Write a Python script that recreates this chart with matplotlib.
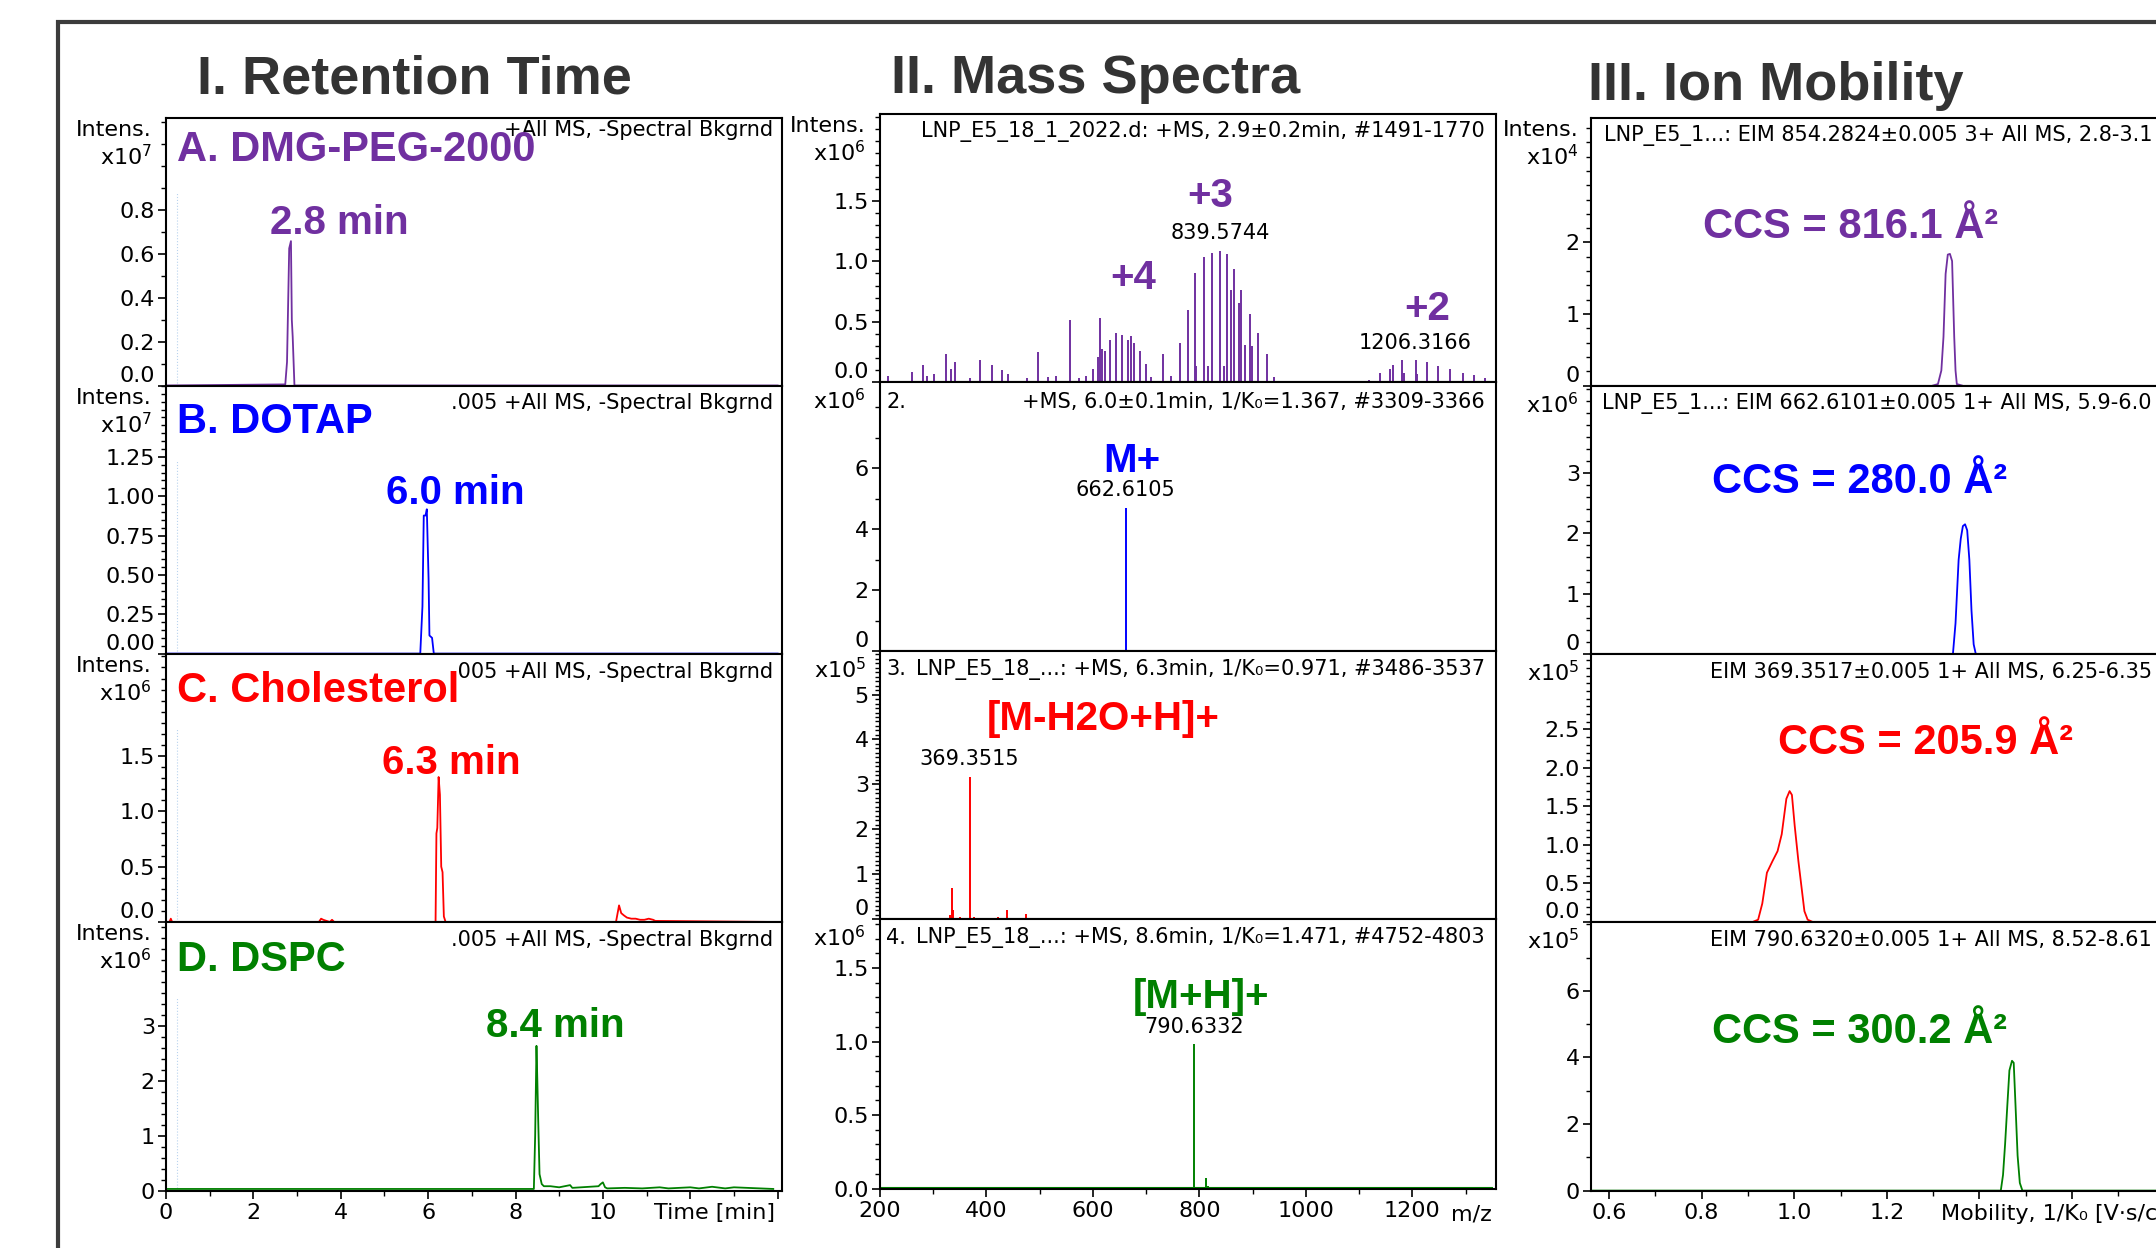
import numpy as np
import matplotlib
matplotlib.use('Agg')
import matplotlib.pyplot as plt
from matplotlib.ticker import MultipleLocator
from matplotlib.patches import Rectangle

#%% plotting properties
plt.rcParams.update({
    'font.family': 'DejaVu Sans',
    'font.size': 16,
    'axes.linewidth': 1.5,
    'xtick.direction': 'out',
    'ytick.direction': 'out',
    'xtick.major.size': 6,
    'ytick.major.size': 6,
    'xtick.minor.size': 3.5,
    'ytick.minor.size': 3.5,
    'xtick.major.width': 1.2,
    'ytick.major.width': 1.2,
    'xtick.minor.width': 1.0,
    'ytick.minor.width': 1.0,
    'xtick.major.pad': 3,
    'ytick.major.pad': 2,
    'xtick.labelsize': 16,
    'ytick.labelsize': 16,
})

PURPLE = '#7030A0'
BLUE = '#0000FF'
RED = '#FF0000'
GREEN = '#008000'
colors = [PURPLE, BLUE, RED, GREEN]

#%% data -- I. retention time (min, intensity)
dmg_t = [0.0, 2.73, 2.77, 2.82, 2.86, 2.88, 2.90, 2.94, 14.0]
dmg_i = [0.0, 0.005, 0.107, 0.625, 0.658, 0.299, 0.222, 0.0, 0.0]       # x1e7

dotap_t = [0.0, 5.82, 5.87, 5.90, 5.94, 5.97, 6.01, 6.03, 6.09, 6.13, 14.0]
dotap_i = [0.0, 0.0, 0.30, 0.877, 0.877, 0.917, 0.476, 0.115, 0.10, 0.0, 0.0]  # x1e7

chol_t = [0.0, 0.08, 0.11, 0.14, 3.50, 3.55, 3.60, 3.75, 3.80, 3.85, 6.17, 6.19, 6.21,
          6.24, 6.27, 6.30, 6.33, 6.36, 6.40, 10.30, 10.37, 10.42, 10.48, 10.55, 10.65,
          10.75, 10.85, 10.95, 11.05, 11.15, 11.20, 14.0]
chol_i = [0.0, 0.0, 0.03, 0.0, 0.0, 0.03, 0.02, 0.0, 0.02, 0.0, 0.0, 0.80, 0.85,
          1.31, 1.15, 0.50, 0.45, 0.05, 0.0, 0.0, 0.15, 0.08, 0.06, 0.04, 0.03,
          0.03, 0.02, 0.02, 0.03, 0.02, 0.01, 0.0]                          # x1e6

dspc_t = [0.0, 8.42, 8.45, 8.48, 8.50, 8.52, 8.55, 8.60, 8.65, 8.80, 9.00, 9.25, 9.30,
          9.50, 9.90, 9.95, 10.00, 10.05, 10.10, 10.50, 10.90, 11.30, 11.50, 12.00,
          12.20, 12.50, 12.80, 13.00, 13.30, 13.90]
dspc_i = [0.03, 0.03, 1.00, 2.64, 2.00, 1.27, 0.30, 0.12, 0.08, 0.08, 0.06, 0.10, 0.05,
          0.06, 0.08, 0.12, 0.15, 0.06, 0.04, 0.05, 0.04, 0.06, 0.04, 0.06,
          0.04, 0.07, 0.04, 0.06, 0.05, 0.03]                               # x1e6

#%% data -- II. mass spectra (m/z, intensity)
peg_mz = [216.6, 260.3, 282.2, 288.3, 302.3, 324.1, 334.6, 342.5, 369.6, 388.8, 411.5,
          429.9, 440.3, 476.2, 498.0, 516.4, 532.1, 558.3, 575.0, 588.1, 600.3, 609.9,
          613.4, 617.8, 623.0, 632.6, 643.1, 654.5, 665.9, 672.8, 677.2, 688.6, 699.9,
          710.4, 731.4, 748.0, 764.6, 779.5, 791.7, 794.3, 808.3, 817.1, 824.1, 839.57,
          845.9, 852.9, 859.0, 865.1, 873.9, 879.1, 885.2, 894.8, 898.3, 910.6, 927.2,
          941.2, 1118.6, 1138.7, 1158.8, 1163.2, 1181.5, 1185.0, 1206.32, 1209.5,
          1227.0, 1248.8, 1271.6, 1294.3, 1316.1, 1336.2]
peg_int = [0.05, 0.08, 0.145, 0.05, 0.07, 0.23, 0.11, 0.165, 0.034, 0.18, 0.145,
           0.10, 0.07, 0.034, 0.25, 0.044, 0.05, 0.515, 0.034, 0.05, 0.11, 0.21,
           0.53, 0.27, 0.26, 0.35, 0.41, 0.39, 0.35, 0.38, 0.32, 0.26, 0.15,
           0.044, 0.236, 0.05, 0.327, 0.60, 0.90, 0.13, 1.04, 0.13, 1.067, 1.09,
           0.13, 1.063, 0.76, 0.934, 0.655, 0.76, 0.306, 0.567, 0.30, 0.41, 0.229,
           0.044, 0.016, 0.075, 0.11, 0.145, 0.18, 0.075, 0.18, 0.069,
           0.163, 0.131, 0.11, 0.075, 0.061, 0.034]                          # x1e6

dotap_mz = [662.61]
dotap_int = [4.69]                                                            # x1e6

chol_mz = [331.8, 335.3, 338.8, 350.2, 369.35, 378.1, 422.7, 440.2, 475.1, 497.8]
chol_int = [0.10, 0.69, 0.20, 0.04, 3.17, 0.04, 0.04, 0.21, 0.11, 0.03]      # x1e5

dspc_mz = [790.63, 812.3, 815.8, 905.8]
dspc_int = [0.984, 0.073, 0.02, 0.013]                                        # x1e6

#%% data -- III. ion mobility (1/K0, intensity)
peg_k = [1.300, 1.3104, 1.3178, 1.3224, 1.3270, 1.3317, 1.3363, 1.3410, 1.3456, 1.3484, 1.3512, 1.362]
peg_ki = [0.0, 0.02, 0.21, 0.68, 1.56, 1.83, 1.84, 1.74, 0.68, 0.21, 0.02, 0.0]     # x1e4

dotap_k = [1.335, 1.3428, 1.3484, 1.3551, 1.3597, 1.3643, 1.3690, 1.3736, 1.3783, 1.3829, 1.3876, 1.3922, 1.40]
dotap_ki = [0.0, 0.0, 0.51, 1.56, 1.91, 2.12, 2.15, 2.05, 1.56, 0.72, 0.16, 0.0, 0.0]  # x1e6

chol_k = [0.910, 0.922, 0.931, 0.941, 0.953, 0.964, 0.973, 0.983, 0.990, 0.995,
          1.001, 1.009, 1.015, 1.022, 1.029, 1.040]
chol_ki = [0.0, 0.03, 0.24, 0.64, 0.79, 0.92, 1.14, 1.60, 1.70, 1.65,
           1.25, 0.79, 0.49, 0.14, 0.03, 0.0]                                # x1e5

dspc_k = [0.56, 1.4462, 1.4510, 1.4555, 1.4603, 1.4648, 1.4704, 1.4741, 1.4780, 1.4825, 1.4873, 1.4929, 1.90]
dspc_ki = [0.0, 0.0, 0.47, 1.40, 2.56, 3.61, 3.90, 3.84, 2.56, 1.05, 0.23, 0.0, 0.0]  # x1e5

#%% axis settings per panel: (ymax, major ticks, minor step, exponent, label format)
rt_y = [(1.219, [0, 0.2, 0.4, 0.6, 0.8], 0.1, 7, '{:.1f}'),
        (1.703, [0, 0.25, 0.5, 0.75, 1.0, 1.25], 0.05, 7, '{:.2f}'),
        (2.425, [0, 0.5, 1.0, 1.5], 0.1, 6, '{:.1f}'),
        (4.9, [0, 1, 2, 3], 0.2, 6, '{:.0f}')]
ms_y = [(2.226, [0, 0.5, 1.0, 1.5], 0.1, 6, '{:.1f}'),
        (8.82, [0, 2, 4, 6], 1, 6, '{:.0f}'),
        (5.97, [0, 1, 2, 3, 4, 5], 0.1, 5, '{:.0f}'),
        (1.834, [0, 0.5, 1.0, 1.5], 0.1, 6, '{:.1f}')]
im_y = [(3.74, [0, 1, 2], 0.2, 4, '{:.0f}'),
        (4.45, [0, 1, 2, 3], 0.2, 6, '{:.0f}'),
        (3.48, [0, 0.5, 1.0, 1.5, 2.0, 2.5], 0.1, 5, '{:.1f}'),
        (8.07, [0, 2, 4, 6], 1, 5, '{:.0f}')]

W, H = 2156, 1248
fig = plt.figure(figsize=(W / 100, H / 100), dpi=100)


def box(l, t, r, b):
    return [l / W, 1 - b / H, (r - l) / W, (b - t) / H]


def ftext(px, py, s, **kw):
    return fig.text(px / W, 1 - py / H, s, **kw)


def setup(ax, ymax, major, minor, fmt, raise_zero, bottom_row):
    ax.set_ylim(0, ymax)
    ax.set_yticks(major)
    ax.set_yticklabels([fmt.format(v) for v in major])
    ax.yaxis.set_minor_locator(MultipleLocator(minor))
    ax.tick_params(axis='y', which='both', left=True, right=False)
    labs = ax.get_yticklabels()
    if raise_zero:
        labs[0].set_va('bottom')
    if not bottom_row:
        ax.tick_params(axis='x', which='both', bottom=False, labelbottom=False)
    ax.tick_params(axis='x', which='both', top=False)
    for sp in ax.spines.values():
        sp.set_zorder(5)


cols = [
    (166, 782, [118, 385.5, 653.6, 922, 1190.6]),
    (880, 1496, [113.6, 382, 651, 919, 1188.6]),
    (1591, 2200, [118, 385.5, 654, 922, 1190.6]),
]

axes = [[None] * 4 for _ in range(3)]
for c, (l, r, rows) in enumerate(cols):
    for k in range(4):
        axes[c][k] = fig.add_axes(box(l, rows[k], r, rows[k + 1]))

# I. retention time
rt_t = [dmg_t, dotap_t, chol_t, dspc_t]
rt_i = [dmg_i, dotap_i, chol_i, dspc_i]
for k in range(4):
    ax = axes[0][k]
    ax.plot(rt_t[k], rt_i[k], color=colors[k], lw=1.3, zorder=3)
    ax.axvline(0.26, ymax=0.72, color='#b9d3ee', lw=0.8, ls=':', zorder=1)
    ax.set_xlim(0, 14.1)
    ymax, major, minor, ex, fmt = rt_y[k]
    setup(ax, ymax, major, minor, fmt, k < 3, k == 3)
ax = axes[0][3]
ax.set_xticks([0, 2, 4, 6, 8, 10, 12, 14])
ax.set_xticklabels(['0', '2', '4', '6', '8', '10', '', ''])
ax.xaxis.set_minor_locator(MultipleLocator(1))

# II. mass spectra
ms_mz = [peg_mz, dotap_mz, chol_mz, dspc_mz]
ms_int = [peg_int, dotap_int, chol_int, dspc_int]
for k in range(4):
    ax = axes[1][k]
    ax.vlines(ms_mz[k], 0, ms_int[k], color=colors[k], lw=1.4, zorder=3)
    ax.set_xlim(201, 1357)
    ymax, major, minor, ex, fmt = ms_y[k]
    setup(ax, ymax, major, minor, fmt, k < 3, k == 3)
axes[1][3].plot([201, 1350], [0.004, 0.004], color=GREEN, lw=1.5, zorder=3)
ax = axes[1][3]
ax.set_xticks([200, 400, 600, 800, 1000, 1200])
ax.xaxis.set_minor_locator(MultipleLocator(100))

# III. ion mobility
im_k = [peg_k, dotap_k, chol_k, dspc_k]
im_i = [peg_ki, dotap_ki, chol_ki, dspc_ki]
for k in range(4):
    ax = axes[2][k]
    ax.plot(im_k[k], im_i[k], color=colors[k], lw=1.3, zorder=3)
    ax.set_xlim(0.561, 1.8765)
    ymax, major, minor, ex, fmt = im_y[k]
    setup(ax, ymax, major, minor, fmt, k < 3, k == 3)
ax = axes[2][3]
ax.set_xticks([0.6, 0.8, 1.0, 1.2, 1.4, 1.6, 1.8])
ax.set_xticklabels(['0.6', '0.8', '1.0', '1.2', '', '', ''])
ax.xaxis.set_minor_locator(MultipleLocator(0.1))

# "Intens." / "x10^n" labels
settings = [rt_y, ms_y, im_y]
lab_x = [152, 866, 1579]
for c in range(3):
    tops = cols[c][2]
    for k in range(4):
        ex = settings[c][k][3]
        has_int = (c == 0) or (k == 0)
        if has_int:
            ftext(lab_x[c], tops[k] + 12.5, 'Intens.', ha='right', va='center', fontsize=16)
            ftext(lab_x[c], tops[k] + 39, 'x10$^{%d}$' % ex, ha='right', va='center', fontsize=16)
        else:
            ftext(lab_x[c], tops[k] + 19, 'x10$^{%d}$' % ex, ha='right', va='center', fontsize=16)

# axis titles at right end
ftext(775, 1213, 'Time [min]', ha='right', va='center', fontsize=16)
ftext(1492, 1214, 'm/z', ha='right', va='center', fontsize=16)
ftext(1941, 1214, 'Mobility, 1/K\u2080 [V\u00b7s/cm\u00b2]', ha='left', va='center', fontsize=16)

# spectrum headers
hd = dict(fontsize=15, va='center')
ftext(773, 130, '+All MS, -Spectral Bkgrnd', ha='right', **hd)
ftext(773, 402.8, '.005 +All MS, -Spectral Bkgrnd', ha='right', **hd)
ftext(773, 671.8, '.005 +All MS, -Spectral Bkgrnd', ha='right', **hd)
ftext(773, 939.7, '.005 +All MS, -Spectral Bkgrnd', ha='right', **hd)

ftext(1485, 131, 'LNP_E5_18_1_2022.d: +MS, 2.9\u00b10.2min, #1491-1770', ha='right', **hd)
ftext(886, 402, '2.', ha='left', **hd)
ftext(1485, 402, '+MS, 6.0\u00b10.1min, 1/K\u2080=1.367, #3309-3366', ha='right', **hd)
ftext(886, 669, '3.', ha='left', **hd)
ftext(1485, 669, 'LNP_E5_18_...: +MS, 6.3min, 1/K\u2080=0.971, #3486-3537', ha='right', **hd)
ftext(886, 938, '4.', ha='left', **hd)
ftext(1485, 938, 'LNP_E5_18_...: +MS, 8.6min, 1/K\u2080=1.471, #4752-4803', ha='right', **hd)

ftext(2152, 135.5, 'LNP_E5_1...: EIM 854.2824\u00b10.005 3+ All MS, 2.8-3.1', ha='right', **hd)
ftext(2152, 404, 'LNP_E5_1...: EIM 662.6101\u00b10.005 1+ All MS, 5.9-6.0', ha='right', **hd)
ftext(2152, 671.8, 'EIM 369.3517\u00b10.005 1+ All MS, 6.25-6.35', ha='right', **hd)
ftext(2152, 940.5, 'EIM 790.6320\u00b10.005 1+ All MS, 8.52-8.61', ha='right', **hd)

# peak m/z labels
mz_lab = dict(fontsize=15, ha='center', va='center')
ftext(1220, 232.7, '839.5744', **mz_lab)
ftext(1415.5, 343, '1206.3166', **mz_lab)
ftext(1125.4, 490.3, '662.6105', **mz_lab)
ftext(969.5, 759.4, '369.3515', **mz_lab)
ftext(1194, 1027, '790.6332', **mz_lab)

# bold annotations
bold = dict(family='Liberation Sans', weight='bold')
ftext(414, 93, 'I. Retention Time', ha='center', va='baseline', fontsize=39, color='#333333', **bold)
ftext(1096, 92.6, 'II. Mass Spectra', ha='center', va='baseline', fontsize=39, color='#333333', **bold)
ftext(1776, 100, 'III. Ion Mobility', ha='center', va='baseline', fontsize=39, color='#333333', **bold)

names = ['A. DMG-PEG-2000', 'B. DOTAP', 'C. Cholesterol', 'D. DSPC']
name_y = [161, 433, 702, 971]
for k in range(4):
    ftext(177, name_y[k], names[k], ha='left', va='baseline', fontsize=30, color=colors[k], **bold)

rt_lab = ['2.8 min', '6.0 min', '6.3 min', '8.4 min']
rt_pos = [(339.5, 233.6), (455, 504), (451, 773.8), (555, 1037.4)]
for k in range(4):
    ftext(rt_pos[k][0], rt_pos[k][1], rt_lab[k], ha='center', va='baseline', fontsize=29,
          color=colors[k], **bold)

ms_lab = [('+3', 1210.6, 195.7, PURPLE), ('+4', 1133, 277.8, PURPLE), ('+2', 1427, 308.5, PURPLE),
          ('M+', 1131.5, 460.9, BLUE), ('[M-H2O+H]+', 1103.6, 719.5, RED),
          ('[M+H]+', 1201, 996.7, GREEN)]
for s, x, y, col in ms_lab:
    ftext(x, y, s, ha='center', va='center', fontsize=29, color=col, **bold)

ccs_lab = ['CCS = 816.1 \u00c5\u00b2', 'CCS = 280.0 \u00c5\u00b2', 'CCS = 205.9 \u00c5\u00b2', 'CCS = 300.2 \u00c5\u00b2']
ccs_pos = [(1851, 227), (1859.4, 482), (1926, 742.8), (1859.4, 1031.6)]
for k in range(4):
    ftext(ccs_pos[k][0], ccs_pos[k][1], ccs_lab[k], ha='center', va='center', fontsize=30,
          color=colors[k], **bold)

# outer frame
fig.add_artist(Rectangle((58 / W, -0.1), 1.2, 1 - 22 / H + 0.1, transform=fig.transFigure,
                         fill=False, edgecolor='#3c3c3c', lw=3))

fig.savefig('out.png', dpi=100)
